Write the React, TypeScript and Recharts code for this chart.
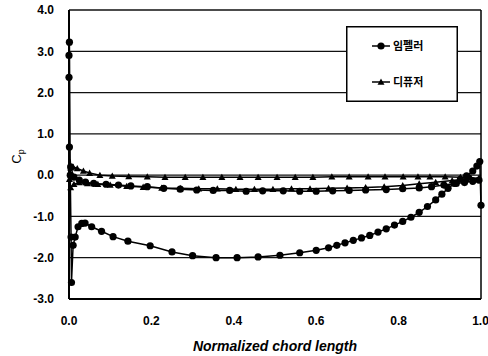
import React from "react";
import {
  ScatterChart,
  Scatter,
  XAxis,
  YAxis,
  CartesianGrid,
  ReferenceLine,
  Legend,
  Label,
} from "recharts";

// 임펠러 (impeller) - chord position / Cp, in path order (pressure side TE->LE, then suction side LE->TE)
const impellerX = [
  0.995, 0.98, 0.96, 0.94, 0.91, 0.88, 0.85, 0.81, 0.77, 0.72, 0.68, 0.64, 0.6,
  0.56, 0.52, 0.47, 0.43, 0.39, 0.35, 0.31, 0.27, 0.23, 0.19, 0.15, 0.12, 0.09,
  0.06, 0.04, 0.025, 0.012, 0.004, 0.001, 0, 0, 0.001, 0.003, 0.005, 0.006,
  0.01, 0.015, 0.022, 0.031, 0.039, 0.055, 0.079, 0.107, 0.143, 0.197, 0.25,
  0.3, 0.357, 0.408, 0.459, 0.512, 0.56, 0.6, 0.63, 0.65, 0.67, 0.69, 0.71,
  0.73, 0.75, 0.77, 0.79, 0.81, 0.83, 0.85, 0.87, 0.89, 0.905, 0.92, 0.935,
  0.95, 0.965, 0.98, 0.99, 0.997, 1.0,
];
const impellerCp = [
  -0.12, -0.15, -0.18, -0.2, -0.24, -0.28, -0.31, -0.33, -0.35, -0.36, -0.37,
  -0.38, -0.39, -0.39, -0.38, -0.38, -0.39, -0.37, -0.37, -0.36, -0.34, -0.32,
  -0.28, -0.26, -0.24, -0.22, -0.2, -0.17, -0.12, -0.05, 0.2, 0.68, 2.37, 2.9,
  3.22, 0.0, -1.5, -2.6, -1.7, -1.5, -1.25, -1.17, -1.16, -1.25, -1.36, -1.49,
  -1.6, -1.71, -1.86, -1.95, -2.0, -2.0, -1.98, -1.94, -1.88, -1.82, -1.76,
  -1.7, -1.64, -1.58, -1.52, -1.46, -1.38, -1.3, -1.21, -1.12, -1.02, -0.9,
  -0.76, -0.6, -0.46, -0.32, -0.2, -0.1, -0.02, 0.1, 0.22, 0.33, -0.73,
];

// 디퓨저 (diffuser)
const diffuserX = [
  0.995, 0.975, 0.95, 0.913, 0.876, 0.847, 0.811, 0.767, 0.726, 0.68, 0.638,
  0.592, 0.549, 0.505, 0.459, 0.415, 0.371, 0.325, 0.282, 0.233, 0.19, 0.145,
  0.105, 0.075, 0.05, 0.035, 0.02, 0.01, 0.004, 0.001, 0.004, 0.012, 0.025,
  0.045, 0.07, 0.1, 0.14, 0.18, 0.225, 0.27, 0.315, 0.36, 0.405, 0.45, 0.495,
  0.54, 0.585, 0.63, 0.675, 0.72, 0.765, 0.81, 0.85, 0.89, 0.93, 0.965, 0.995,
];
const diffuserCp = [
  -0.08, -0.06, -0.05, -0.04, -0.04, -0.04, -0.04, -0.04, -0.04, -0.04, -0.04,
  -0.05, -0.05, -0.05, -0.05, -0.05, -0.05, -0.05, -0.05, -0.05, -0.04, -0.03,
  -0.02, 0.0, 0.05, 0.1, 0.16, 0.2, 0.18, -0.1, -0.3, -0.22, -0.18, -0.2,
  -0.22, -0.24, -0.27, -0.29, -0.31, -0.32, -0.33, -0.33, -0.34, -0.34, -0.34,
  -0.33, -0.33, -0.32, -0.31, -0.3, -0.28, -0.25, -0.21, -0.17, -0.13, -0.1,
  -0.08,
];

const xTicks = [0, 0.2, 0.4, 0.6, 0.8, 1.0];
const yTicks = [-3, -2, -1, 0, 1, 2, 3, 4];

const impellerData = impellerX.map((x, i) => ({ x, cp: impellerCp[i] }));
const diffuserData = diffuserX.map((x, i) => ({ x, cp: diffuserCp[i] }));

const tickStyle = {
  fontFamily: "'Liberation Sans', Arial, sans-serif",
  fontSize: 12,
  fontWeight: "bold" as const,
  fill: "#000",
};

const Dot = (props: any) => (
  <circle cx={props.cx} cy={props.cy} r={3.6} fill="#000" />
);

const Tri = (props: any) => {
  const { cx, cy } = props;
  return (
    <polygon
      points={`${cx},${cy - 3.5} ${cx - 3.5},${cy + 2.8} ${cx + 3.5},${cy + 2.8}`}
      fill="#000"
    />
  );
};

const CpLabel = (props: any) => {
  const vb = props.viewBox || { y: 10, height: 289 };
  const x = 21;
  const y = vb.y + vb.height / 2 + 2;
  return (
    <text
      transform={`rotate(-90, ${x}, ${y})`}
      x={x}
      y={y}
      textAnchor="middle"
      fontFamily="'Liberation Sans', Arial, sans-serif"
      fontSize={13}
      fill="#000"
    >
      C
      <tspan fontSize={9} dy={3}>
        p
      </tspan>
    </text>
  );
};

const legendRows = [
  { name: "임펠러", marker: "circle", y: 20 },
  { name: "디퓨저", marker: "triangle", y: 56 },
];

const LegendBox = () => (
  <svg width={112} height={76} style={{ display: "block" }}>
    <rect x={0.75} y={0.75} width={110.5} height={74.5} fill="#fff" stroke="#000" strokeWidth={1.5} />
    {legendRows.map((row) => (
      <g key={row.name}>
        <line x1={26} y1={row.y} x2={44} y2={row.y} stroke="#000" strokeWidth={1.5} />
        {row.marker === "circle" ? (
          <circle cx={35} cy={row.y} r={3.6} fill="#000" />
        ) : (
          <polygon
            points={`35,${row.y - 3.5} 31.5,${row.y + 2.8} 38.5,${row.y + 2.8}`}
            fill="#000"
          />
        )}
        <text
          x={47}
          y={row.y + 4}
          fontFamily="'Noto Sans CJK KR', sans-serif"
          fontWeight="bold"
          fontSize={11}
          fill="#000"
        >
          {row.name}
        </text>
      </g>
    ))}
  </svg>
);

export default function App() {
  return (
    <div style={{ position: "absolute", left: 0, top: 0, background: "#fff" }}>
      <ScatterChart
        width={488}
        height={356}
        margin={{ top: 10, right: 7, bottom: 5, left: 0 }}
      >
        <CartesianGrid vertical={false} stroke="#111" strokeWidth={1.3} />
        <XAxis
          type="number"
          dataKey="x"
          domain={[0, 1]}
          ticks={xTicks}
          tickFormatter={(v: number) => v.toFixed(1)}
          tick={tickStyle}
          tickLine={false}
          tickSize={0}
          tickMargin={17}
          height={52}
          axisLine={{ stroke: "#000", strokeWidth: 2 }}
        >
          <Label
            value="Normalized chord length"
            position="insideBottom"
            offset={0}
            style={{
              fontFamily: "'Liberation Sans', Arial, sans-serif",
              fontSize: 14,
              fontWeight: "bold",
              fontStyle: "italic",
              fill: "#000",
            }}
          />
        </XAxis>
        <YAxis
          type="number"
          dataKey="cp"
          domain={[-3, 4]}
          ticks={yTicks}
          tickFormatter={(v: number) => v.toFixed(1)}
          tick={tickStyle}
          tickLine={false}
          tickSize={0}
          tickMargin={15}
          width={69}
          axisLine={{ stroke: "#000", strokeWidth: 2 }}
          label={<CpLabel />}
        />
        <ReferenceLine x={1} stroke="#000" strokeWidth={1.5} />
        <Legend
          layout="vertical"
          align="center"
          verticalAlign="middle"
          content={() => <LegendBox />}
          wrapperStyle={{ left: 346, top: 26, width: 112, height: 76 }}
        />
        <Scatter
          name="디퓨저"
          data={diffuserData}
          line={{ stroke: "#000", strokeWidth: 1.5 }}
          lineType="joint"
          shape={Tri}
          isAnimationActive={false}
        />
        <Scatter
          name="임펠러"
          data={impellerData}
          line={{ stroke: "#000", strokeWidth: 1.5 }}
          lineType="joint"
          shape={Dot}
          isAnimationActive={false}
        />
      </ScatterChart>
    </div>
  );
}
